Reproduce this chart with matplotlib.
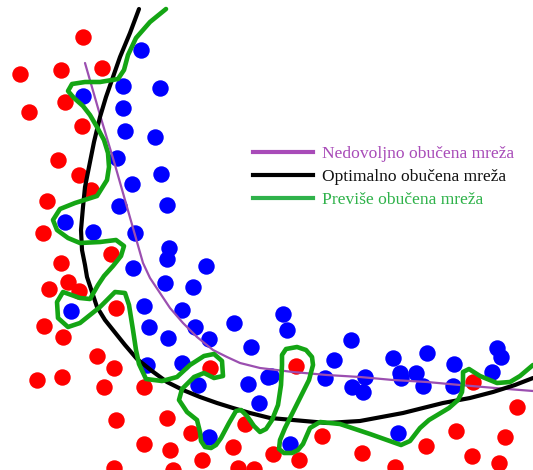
import numpy as np
import matplotlib
matplotlib.use("Agg")
import matplotlib.pyplot as plt
from matplotlib.lines import Line2D

# dot positions (pixel coords, y down)
red_x = [83, 20, 61, 102, 65, 29, 82, 58, 79, 91, 47, 43,
         111, 61, 68, 49, 79, 116, 44, 63, 97, 114, 37, 62, 104, 144, 116, 167,
         191, 210, 245, 144, 170, 233, 202, 114, 173, 238, 254,
         296, 473, 517, 322, 456, 505, 273, 362, 299, 426, 472, 499, 395]
red_y = [37, 74, 70, 68, 102, 112, 126, 160, 175, 190, 201, 233,
         254, 263, 282, 289, 291, 308, 326, 337, 356, 368, 380, 377, 387, 387, 420, 418,
         433, 368, 424, 444, 450, 447, 460, 468, 470, 468, 469,
         366, 382, 407, 436, 431, 437, 454, 453, 460, 446, 456, 463, 467]

blue_x = [141, 123, 160, 83, 123, 125, 155, 117, 161, 132, 119, 167, 65, 93, 135,
          169, 167, 133, 206, 165, 193, 144, 182, 71, 149, 195, 234, 168, 209, 251,
          147, 182, 198, 248, 259, 209, 268,
          283, 287, 351, 334, 393, 427, 497, 501, 454, 271, 325, 365, 400, 401, 416,
          492, 352, 363, 423, 453, 398, 290]
blue_y = [50, 86, 88, 96, 108, 131, 137, 158, 174, 184, 206, 205, 222, 232, 233,
          248, 259, 268, 266, 283, 287, 306, 310, 311, 327, 327, 323, 338, 339, 347,
          365, 363, 385, 384, 403, 437, 377,
          314, 330, 340, 360, 358, 353, 348, 357, 364, 376, 378, 377, 373, 378, 373,
          372, 387, 392, 386, 386, 433, 444]

# decision boundaries
under_x = [85, 100, 115, 127, 135, 143, 150, 160, 170, 183, 197, 213, 227, 240,
           260, 293, 327, 360, 393, 427, 460, 495, 533]
under_y = [63, 115, 165, 207, 235, 263, 278, 293, 308, 323, 337, 350, 357, 363,
           368, 372, 375, 377, 380, 382, 385, 388, 391]

opt_x = [139, 130, 120, 113, 106, 100, 94, 89, 85, 83, 81, 82, 85, 87, 92, 97,
         105, 113, 125, 137, 152, 167, 183, 200, 217, 233, 250, 270, 293, 327,
         360, 403, 443, 470, 493, 515, 533]
opt_y = [9, 33, 57, 77, 97, 117, 142, 167, 187, 207, 230, 250, 265, 277, 292, 307,
         320, 330, 345, 359, 371, 382, 390, 397, 403, 408, 413, 418, 420, 423,
         421, 413, 403, 398, 392, 385, 378]

over_x = [166, 150, 136, 128, 124, 118, 100, 85, 72, 68, 74, 83, 90, 97, 104, 108,
          109, 107, 97, 75, 60, 53, 57, 68, 80, 100, 116, 124, 121, 113, 104, 98,
          90, 80, 63, 57, 58, 68, 80, 100, 115, 125, 129, 133, 136, 139, 146,
          162, 177, 190, 204, 214, 222, 223, 214, 204, 194, 182, 179, 187, 197,
          200, 201, 205, 211, 216, 221, 229, 236, 241, 247, 254, 260, 266, 272,
          278, 281, 282, 282, 286, 297, 306, 312, 313, 309, 303, 293, 285, 280,
          279, 284, 292, 298, 303, 310, 320, 340, 370, 401, 410, 420, 429, 449,
          458, 462, 463, 463, 469, 480, 497, 510, 520, 533]
over_y = [9, 22, 38, 55, 70, 79, 82, 82, 84, 91, 98, 106, 115, 127, 140, 153,
          167, 180, 196, 203, 209, 220, 230, 238, 243, 242, 240, 246, 256, 266,
          276, 285, 299, 298, 292, 302, 318, 327, 323, 307, 292, 293, 305, 330,
          350, 364, 379, 381, 377, 365, 356, 354, 361, 376, 378, 373, 377, 389,
          400, 412, 420, 432, 441, 447, 448, 445, 438, 423, 411, 410, 416, 426,
          432, 429, 420, 405, 385, 365, 355, 349, 347, 350, 357, 365, 380, 392,
          412, 428, 440, 449, 453, 453, 450, 444, 428, 422, 424, 434, 445, 441,
          428, 420, 408, 400, 392, 381, 372, 369, 376, 383, 382, 376, 365]

labels = ["Nedovoljno obučena mreža", "Optimalno obučena mreža", "Previše obučena mreža"]
label_colors = ["#a84bb8", "#111111", "#2fb24a"]

fig = plt.figure(figsize=(5.33, 4.70), dpi=100)
ax = fig.add_axes([0, 0, 1, 1])
ax.set_xlim(0, 533)
ax.set_ylim(470, 0)
ax.axis("off")

ax.scatter(red_x, red_y, s=140, color="#ff0000", linewidths=0, zorder=2)
ax.scatter(blue_x, blue_y, s=140, color="#0000ff", linewidths=0, zorder=2)

ax.plot(under_x, under_y, color="#9b4fb0", lw=1.6, zorder=3,
        solid_capstyle="round", solid_joinstyle="round")
ax.plot(opt_x, opt_y, color="black", lw=3.0, zorder=3,
        solid_capstyle="round", solid_joinstyle="round")
ax.plot(over_x, over_y, color="#14a514", lw=3.3, zorder=4,
        solid_capstyle="round", solid_joinstyle="round")

handles = [Line2D([], [], color=c, lw=3) for c in ["#a84bb8", "black", "#2fb24a"]]
leg = ax.legend(handles, labels, loc="upper left", bbox_to_anchor=(253 / 533, 1 - 146 / 470),
                frameon=False, borderpad=0, borderaxespad=0, handlelength=3.4,
                handletextpad=0.57, labelspacing=0.38,
                prop={"family": "Liberation Serif", "size": 12.6})
for t, c in zip(leg.get_texts(), label_colors):
    t.set_color(c)

fig.savefig("out.png", dpi=100, facecolor="white")
